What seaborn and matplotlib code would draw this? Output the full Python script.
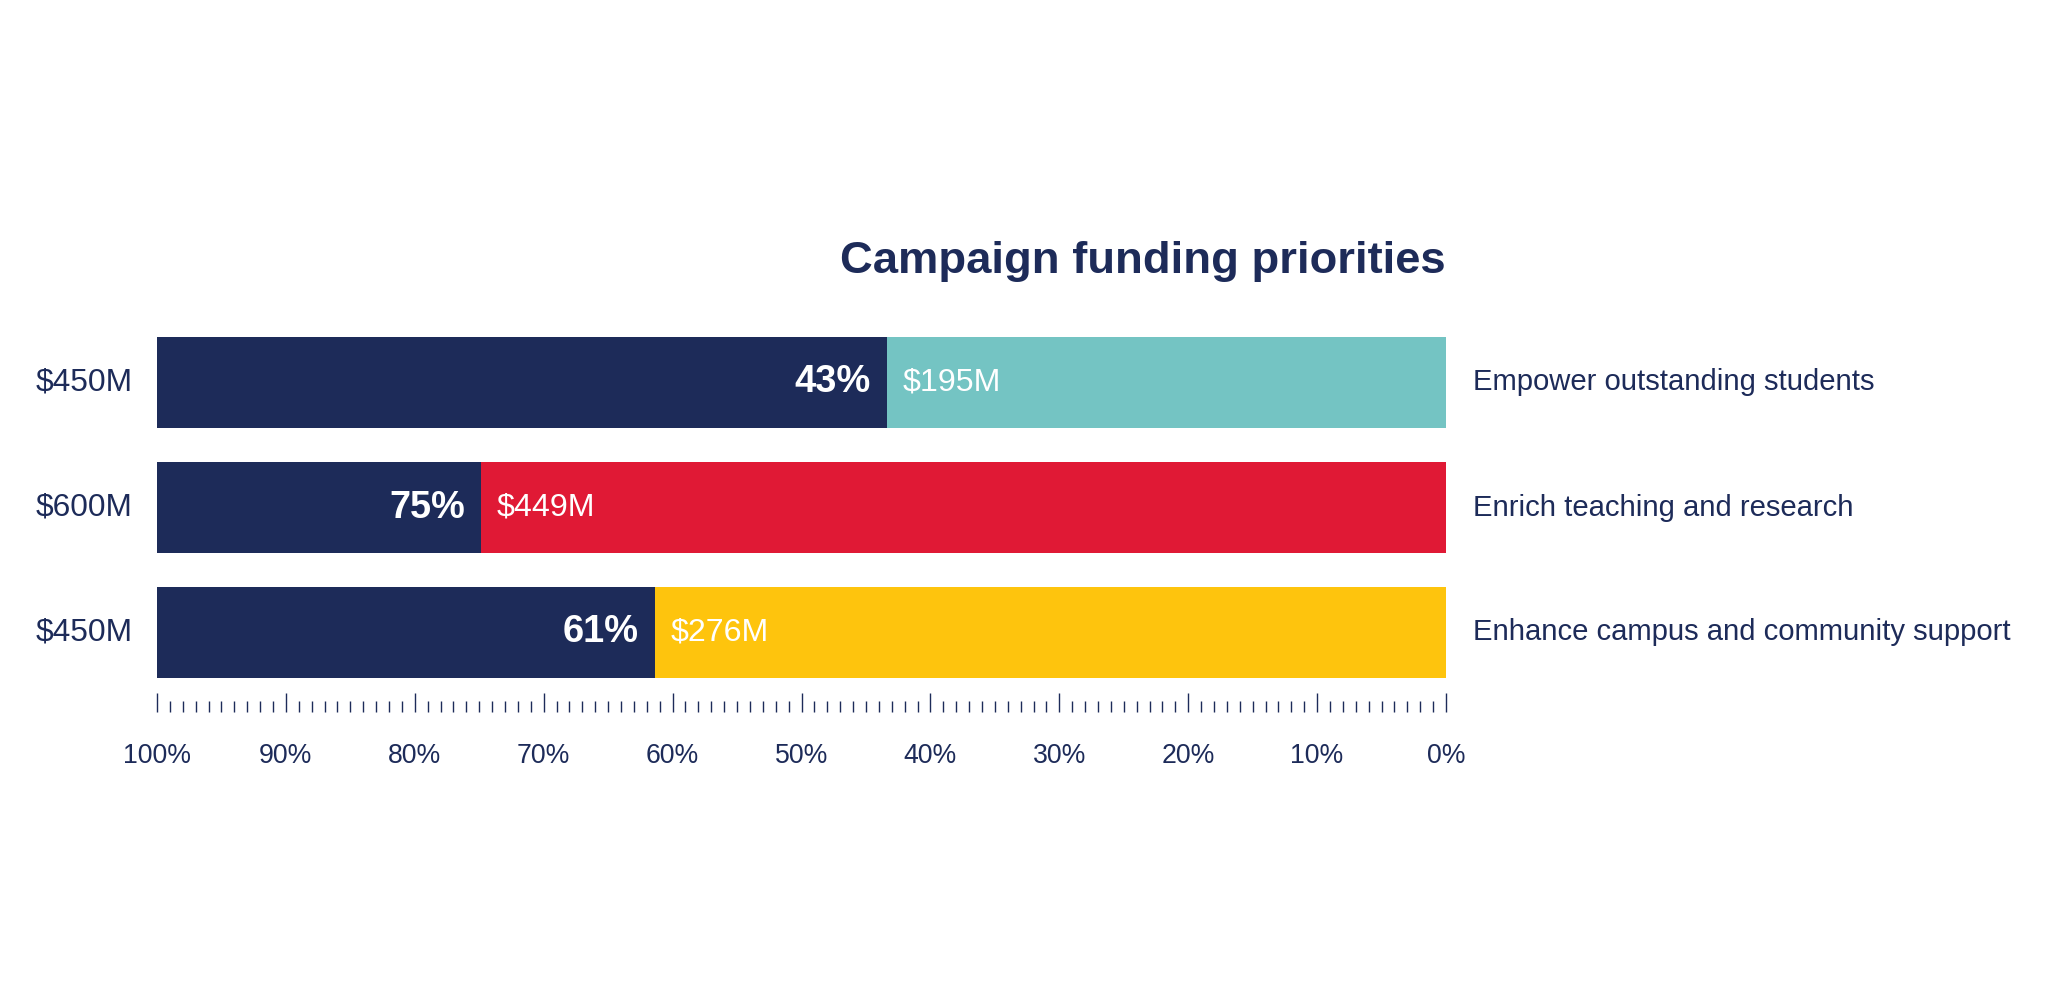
import matplotlib
matplotlib.use("Agg")
import matplotlib.pyplot as plt
import seaborn as sns
import pandas as pd
from matplotlib.ticker import MultipleLocator, FuncFormatter

# ---- data ----
categories = ["Empower outstanding students",
              "Enrich teaching and research",
              "Enhance campus and community support"]
goals = [450, 600, 450]          # $M campaign goal
raised = [195, 449, 276]         # $M raised so far
bar_colors = ["#74c4c3", "#e01935", "#fec40d"]
title = "Campaign funding priorities"

NAVY = "#1d2b59"

sns.set_theme(style="white")
plt.rcParams["font.family"] = ["Liberation Sans", "DejaVu Sans"]

pct = [r / g * 100 for r, g in zip(raised, goals)]
df = pd.DataFrame({"cat": categories, "full": [100] * len(categories), "pct": pct})

fig = plt.figure(figsize=(20.48, 10), dpi=100)
ax = fig.add_axes([157 / 2048, 1 - 712 / 1000, (1446 - 157) / 2048, 412 / 1000])
renderer = fig.canvas.get_renderer()


def fit(t, target_px):
    """Scale a text's font size so its rendered width matches target_px."""
    w = t.get_window_extent(renderer=renderer).width
    if w > 0:
        t.set_fontsize(t.get_fontsize() * target_px / w)
    return t


sns.barplot(data=df, x="full", y="cat", orient="h", color=NAVY, width=0.728,
            saturation=1, linewidth=0, ax=ax)
sns.barplot(data=df, x="pct", y="cat", orient="h", hue="cat", palette=bar_colors,
            width=0.728, saturation=1, linewidth=0, legend=False, ax=ax)

ax.set_xlim(100, 0)
ax.set_ylim(2.636, -0.66)
for s in ax.spines.values():
    s.set_visible(False)
ax.set_xlabel("")
ax.set_ylabel("")
ax.set_yticks([])

ax.xaxis.set_major_locator(MultipleLocator(10))
ax.xaxis.set_minor_locator(MultipleLocator(1))
ax.xaxis.set_major_formatter(FuncFormatter(lambda v, p: f"{v:.0f}%"))
ax.tick_params(axis="x", which="major", direction="in", length=14, width=1,
               color=NAVY, labelcolor=NAVY, labelsize=18, pad=22, bottom=True)
ax.tick_params(axis="x", which="minor", direction="in", length=8, width=1,
               color=NAVY, bottom=True)

# fit tick label size to reference width ("100%" about 68 px)
probe = ax.text(0, 0, "100%", fontsize=18)
fit(probe, 68)
tick_fs = probe.get_fontsize()
probe.remove()
ax.tick_params(axis="x", which="major", labelsize=tick_fs)

cat_texts = []
cat_size = None
for i, (c, g, r, p) in enumerate(zip(categories, goals, raised, pct)):
    tc = ax.text(-2.1, i, c, ha="left", va="center", fontsize=22, color=NAVY, clip_on=False)
    cat_texts.append(tc)
    if i == 2:
        fit(tc, 536)
        cat_size = tc.get_fontsize()
    tg = ax.text(101.9, i, f"${g}M", ha="right", va="center", fontsize=22, color=NAVY, clip_on=False)
    fit(tg, 97)
    tr = ax.annotate(f"${r}M", xy=(p, i), xytext=(11, 0), textcoords="offset points",
                     ha="left", va="center", fontsize=22, color="white")
    fit(tr, 98)
    tp = ax.annotate(f"{round(p)}%", xy=(p, i), xytext=(-12, 0), textcoords="offset points",
                     ha="right", va="center", fontsize=26, fontweight="bold", color="white")
    fit(tp, 76)
for t in cat_texts:
    t.set_fontsize(cat_size)

tt = fig.text(1446 / 2048, 1 - 262 / 1000, title, ha="right", va="center",
              fontsize=34, fontweight="bold", color=NAVY)
fit(tt, 606)

fig.savefig("out.png", dpi=100, facecolor="white")
